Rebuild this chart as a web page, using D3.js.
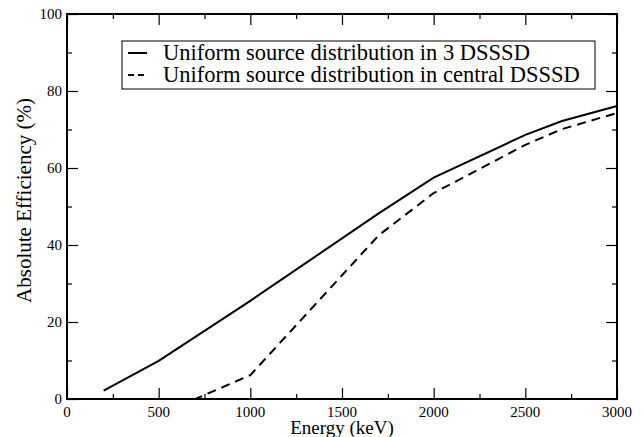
<!DOCTYPE html>
<html>
<head>
<meta charset="utf-8">
<script src="https://cdn.jsdelivr.net/npm/d3@7"></script>
<style>
  body { margin: 0; background: #fff; }
  svg { display: block; }
</style>
</head>
<body>
<svg width="644" height="437"></svg>
<script>
// energies in keV
const energy3 = [200, 500, 1000, 1700, 2000, 2500, 2700, 3000];
const eff3 = [2.2, 9.9, 25.5, 48.2, 57.5, 68.6, 72.2, 76.1];

const energyCentral = [200, 500, 700, 1000, 1700, 2000, 2500, 2700, 3000];
const effCentral = [0, 0, 0, 6.2, 42.5, 53.5, 66.0, 70.1, 74.3];

const xTicks = [0, 500, 1000, 1500, 2000, 2500, 3000];
const yTicks = [0, 20, 40, 60, 80, 100];

const seriesNames = ["Uniform source distribution in 3 DSSSD",
                     "Uniform source distribution in central DSSSD"];

const serif = "Liberation Serif";
const plotLeft = 67, plotRight = 617, plotTop = 14, plotBottom = 399;

const svg = d3.select("svg");

const x = d3.scaleLinear().domain([0, 3000]).range([plotLeft, plotRight]);
const y = d3.scaleLinear().domain([0, 100]).range([plotBottom, plotTop]);

// ticks on all four sides, pointing inward
const minorX = d3.range(0, 3001, 250).filter(v => v % 500 !== 0);
const minorY = d3.range(0, 101, 10).filter(v => v % 20 !== 0);

function tickStyle(g) {
  g.select(".domain").remove();
  g.selectAll(".tick line").attr("stroke", "#000").attr("stroke-width", 1.2);
}

svg.append("g").attr("transform", `translate(0,${plotBottom})`)
  .call(d3.axisTop(x).tickValues(xTicks).tickSize(11).tickFormat(""))
  .call(tickStyle);
svg.append("g").attr("transform", `translate(0,${plotBottom})`)
  .call(d3.axisTop(x).tickValues(minorX).tickSize(5).tickFormat(""))
  .call(tickStyle);
svg.append("g").attr("transform", `translate(0,${plotTop})`)
  .call(d3.axisBottom(x).tickValues(xTicks).tickSize(11).tickFormat(""))
  .call(tickStyle);
svg.append("g").attr("transform", `translate(0,${plotTop})`)
  .call(d3.axisBottom(x).tickValues(minorX).tickSize(5).tickFormat(""))
  .call(tickStyle);
svg.append("g").attr("transform", `translate(${plotLeft},0)`)
  .call(d3.axisRight(y).tickValues(yTicks).tickSize(11).tickFormat(""))
  .call(tickStyle);
svg.append("g").attr("transform", `translate(${plotLeft},0)`)
  .call(d3.axisRight(y).tickValues(minorY).tickSize(5).tickFormat(""))
  .call(tickStyle);
svg.append("g").attr("transform", `translate(${plotRight},0)`)
  .call(d3.axisLeft(y).tickValues(yTicks).tickSize(11).tickFormat(""))
  .call(tickStyle);
svg.append("g").attr("transform", `translate(${plotRight},0)`)
  .call(d3.axisLeft(y).tickValues(minorY).tickSize(5).tickFormat(""))
  .call(tickStyle);

// tick labels
svg.append("g").selectAll("text")
  .data(xTicks).enter().append("text")
  .attr("x", d => x(d))
  .attr("y", 417)
  .attr("text-anchor", "middle")
  .attr("font-family", serif)
  .attr("font-size", 15)
  .text(d => d);

svg.append("g").selectAll("text")
  .data(yTicks).enter().append("text")
  .attr("x", 62)
  .attr("y", d => y(d) + 5)
  .attr("text-anchor", "end")
  .attr("font-family", serif)
  .attr("font-size", 15)
  .text(d => d);

// frame
svg.append("rect")
  .attr("x", plotLeft).attr("y", plotTop)
  .attr("width", plotRight - plotLeft).attr("height", plotBottom - plotTop)
  .attr("fill", "none").attr("stroke", "#000").attr("stroke-width", 2);

const line = d3.line().x(d => x(d[0])).y(d => y(d[1]));

svg.append("path")
  .datum(d3.zip(energy3, eff3))
  .attr("d", line)
  .attr("fill", "none").attr("stroke", "#000").attr("stroke-width", 2);

svg.append("path")
  .datum(d3.zip(energyCentral, effCentral))
  .attr("d", line)
  .attr("fill", "none").attr("stroke", "#000").attr("stroke-width", 2)
  .attr("stroke-dasharray", "9,6");

// axis titles
svg.append("text")
  .attr("x", (plotLeft + plotRight) / 2)
  .attr("y", 434)
  .attr("text-anchor", "middle")
  .attr("font-family", serif)
  .attr("font-size", 19)
  .text("Energy (keV)");

svg.append("text")
  .attr("transform", `translate(31,${(plotTop + plotBottom) / 2 - 6}) rotate(-90)`)
  .attr("text-anchor", "middle")
  .attr("font-family", serif)
  .attr("font-size", 21)
  .text("Absolute Efficiency (%)");

// legend
const legend = svg.append("g");
legend.append("rect")
  .attr("x", 122).attr("y", 41)
  .attr("width", 473).attr("height", 48)
  .attr("fill", "#fff").attr("stroke", "#000").attr("stroke-width", 1);

const dashes = [null, "6,4"];
seriesNames.forEach((name, i) => {
  const cy = 53 + i * 22;
  legend.append("line")
    .attr("x1", 128).attr("x2", 147)
    .attr("y1", cy).attr("y2", cy)
    .attr("stroke", "#000").attr("stroke-width", 2)
    .attr("stroke-dasharray", dashes[i]);
  legend.append("text")
    .attr("x", 163).attr("y", cy + 7)
    .attr("font-family", serif)
    .attr("font-size", 22.5)
    .text(name);
});
</script>
</body>
</html>
